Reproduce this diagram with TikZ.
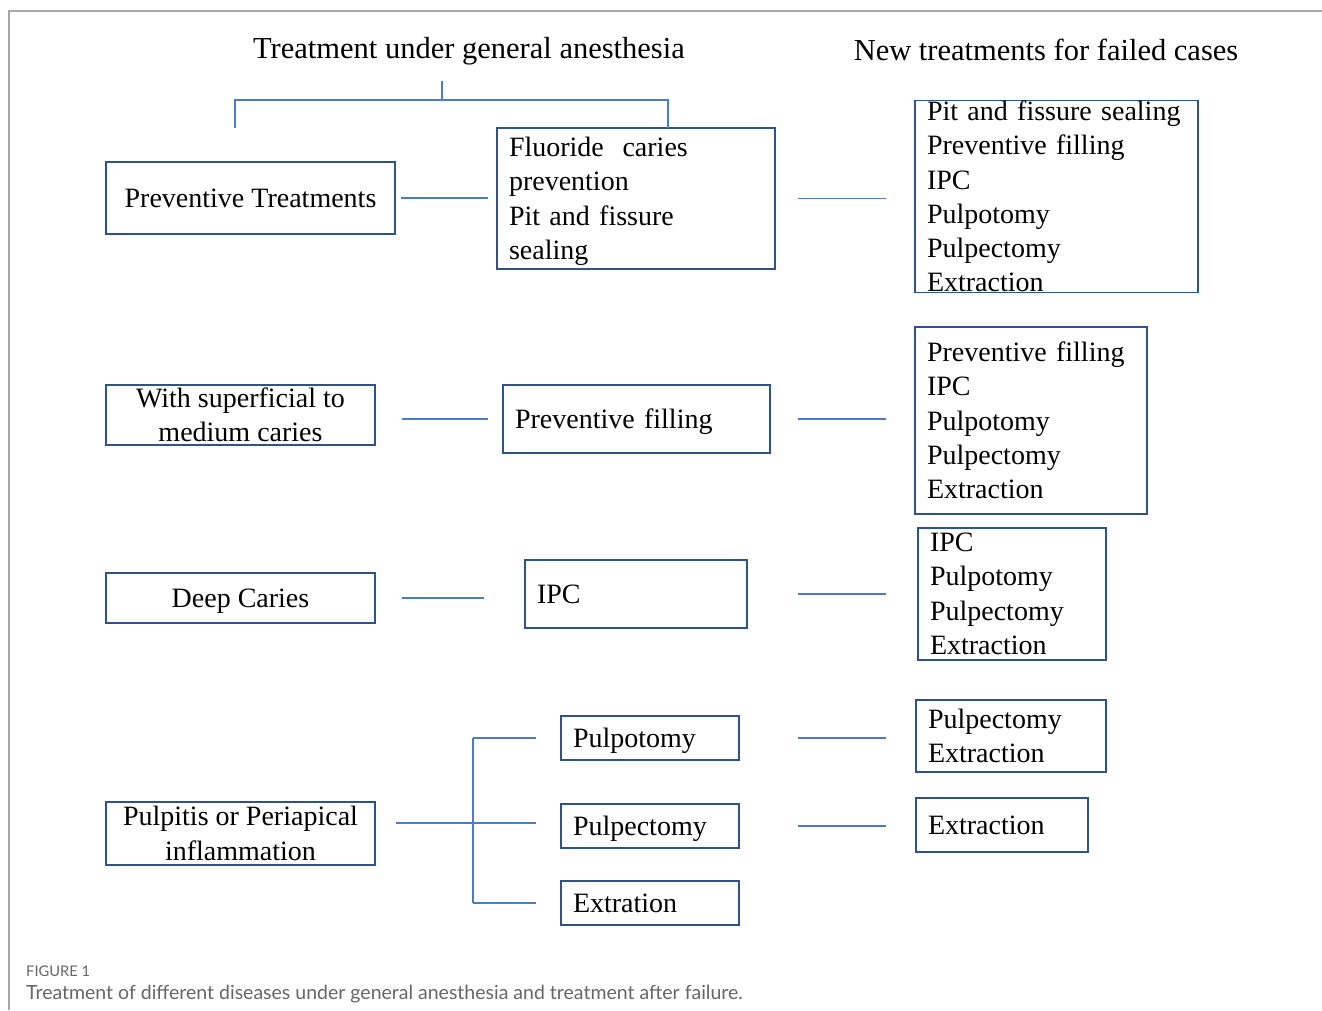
\documentclass[tikz,border=0pt]{standalone}
\usepackage{fontspec}
\setmainfont{Liberation Serif}
\newfontfamily\capfont{Lato}
\usetikzlibrary{calc}
\definecolor{boxblue}{HTML}{2F528F}
\definecolor{linkblue}{HTML}{4A7CC7}
\definecolor{framegray}{HTML}{A8A8A8}
\definecolor{capgray}{HTML}{666666}
\newcommand\topstrut{\rule{0pt}{25pt}}
\newcommand\botstrut{\rule[-6pt]{0pt}{6pt}}
\begin{document}
\begin{tikzpicture}[x=1pt,y=-1pt,
  every node/.style={font=\fontsize{28}{34.3}\selectfont},
  strutted/.style={execute at begin node=\topstrut, execute at end node=\botstrut},
  lbox/.style={draw=boxblue, line width=1.2pt, align=center, inner sep=0pt},
  tbox/.style={draw=boxblue, line width=1.2pt, align=left, inner xsep=12pt, inner ysep=0pt},
  link/.style={draw=linkblue, line width=1.4pt},
  title/.style={font=\fontsize{30.5}{36}\selectfont}]
\useasboundingbox (0,0) rectangle (1322,1010);
% frame
\draw[framegray, line width=1.5pt] (9,1010) -- (9,11) -- (1322,11);
% titles
\node[title] (t1) at (469,51) {Treatment under general anesthesia};
\node[title] (t2) at (1046,50) {New treatments for failed cases};
% row 1
\node[lbox, strutted, minimum width=289, minimum height=72] (pt) at (250.5,198) {Preventive Treatments};
\node[tbox, strutted, text width=254, minimum height=141] (fl) at (636,198.5) {Fluoride\ \ caries\\prevention\\Pit and fissure\\sealing};
\node[tbox, text width=259, minimum height=191] (r1) at (1056.5,196.5) {Pit and fissure sealing\\Preventive filling\\IPC\\Pulpotomy\\Pulpectomy\\Extraction};
% row 2
\node[lbox, minimum width=269, minimum height=60] (sup) at (240.5,415) {With superficial to\\medium caries};
\node[tbox, strutted, text width=243, minimum height=68] (pf) at (636.5,419) {Preventive filling};
\node[tbox, text width=208, minimum height=187] (r2) at (1031,420.5) {Preventive filling\\IPC\\Pulpotomy\\Pulpectomy\\Extraction};
% row 3
\node[lbox, strutted, minimum width=269, minimum height=50] (dc) at (240.5,598) {Deep Caries};
\node[tbox, strutted, text width=198, minimum height=68] (ipc) at (636,594) {IPC};
\node[tbox, text width=164, minimum height=132] (r3) at (1012,594) {IPC\\Pulpotomy\\Pulpectomy\\Extraction};
% row 4
\node[lbox, minimum width=269, minimum height=63] (pu) at (240.5,833.5) {Pulpitis or Periapical\\inflammation};
\node[tbox, strutted, text width=154, minimum height=44] (po) at (650,738) {Pulpotomy};
\node[tbox, strutted, text width=154, minimum height=44] (pe) at (650,826) {Pulpectomy};
\node[tbox, strutted, text width=154, minimum height=44] (ex) at (650,903) {Extration};
\node[tbox, text width=166, minimum height=72] (r4) at (1011,736) {Pulpectomy\\Extraction};
\node[tbox, text width=148, minimum height=54] (r5) at (1002,825) {Extraction};
% top bracket
\coordinate (brM) at (442,81);
\coordinate (brL) at (235,128);
\coordinate (brR) at (668,128);
\draw[link] (brM) -- (brM |- 0,100);
\draw[link] (brL) -- (brL |- 0,100) -- (brR |- 0,100) -- (brR);
% connectors
\draw[link, shorten <=5pt, shorten >=8pt] (pt.east) -- (pt.east -| fl.west);
\draw[link, shorten <=22pt, shorten >=28pt] (fl.east) -- (fl.east -| r1.west);
\draw[link, shorten <=26pt, shorten >=14pt] (sup.east |- pf.west) -- (pf.west);
\draw[link, shorten <=27pt, shorten >=28pt] (pf.east) -- (pf.east -| r2.west);
\draw[link, shorten <=26pt, shorten >=40pt] (dc.east) -- (dc.east -| ipc.west);
\draw[link, shorten <=50pt, shorten >=31pt] (ipc.east) -- (ipc.east -| r3.west);
\draw[link, shorten <=58pt, shorten >=29pt] (po.east) -- (po.east -| r4.west);
\draw[link, shorten <=58pt, shorten >=29pt] (pe.east) -- (pe.east -| r5.west);
% fork
\coordinate (fork) at (473,823);
\draw[link, shorten <=20pt, shorten >=24pt] (pu.east |- fork) -- (pe.west |- fork);
\draw[link] (fork |- po.west) -- (fork |- ex.west);
\draw[link, shorten >=24pt] (fork |- po.west) -- (po.west);
\draw[link, shorten >=24pt] (fork |- ex.west) -- (ex.west);
% caption
\node[anchor=west, inner sep=0pt, text=capgray, font=\capfont\fontsize{14.7}{17}\selectfont] (figlab) at (26,971) {FIGURE 1};
\node[anchor=west, inner sep=0pt, text=capgray, font=\capfont\fontsize{19.5}{23}\selectfont] (cap) at (26,994) {Treatment of different diseases under general anesthesia and treatment after failure.};
\end{tikzpicture}
\end{document}
